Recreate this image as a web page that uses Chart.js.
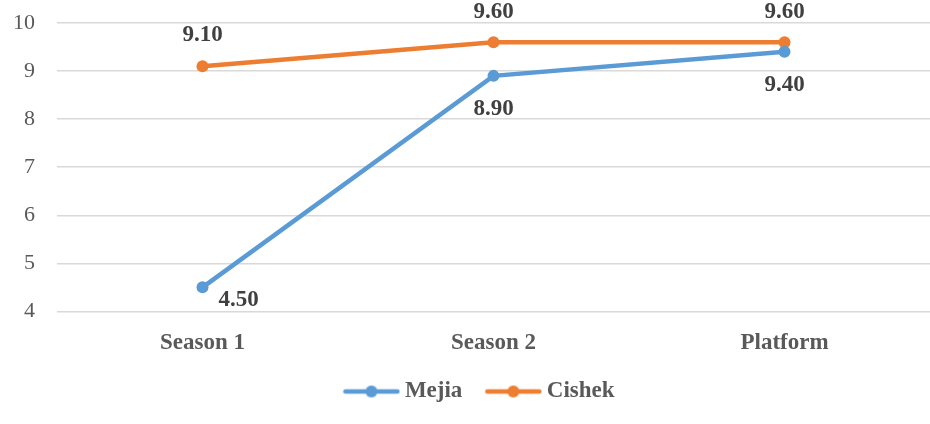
<!DOCTYPE html>
<html>
<head>
<meta charset="utf-8">
<script src="https://cdn.jsdelivr.net/npm/chart.js@4.4.0/dist/chart.umd.min.js"></script>
<style>
  html, body { margin: 0; padding: 0; overflow: hidden; background: #fff; }
  #chart { display: block; }
</style>
</head>
<body>
<canvas id="chart" width="930" height="424"></canvas>
<script>
// categories and values
const categories = ["Season 1", "Season 2", "Platform"];
const mejia = [4.5, 8.9, 9.4];
const cishek = [9.1, 9.6, 9.6];
const seriesNames = ["Mejia", "Cishek"];
const colors = ["#5B9BD5", "#ED7D31"];

const serif = "'Liberation Serif', 'Times New Roman', serif";

// legend symbol: short line with a dot in the middle
function legendMark(color) {
  const c = document.createElement("canvas");
  c.width = 58; c.height = 14;
  const g = c.getContext("2d");
  g.strokeStyle = color;
  g.lineWidth = 4.5;
  g.lineCap = "round";
  g.beginPath();
  g.moveTo(3, 7); g.lineTo(55, 7);
  g.stroke();
  g.fillStyle = color;
  g.beginPath();
  g.arc(29, 7, 6, 0, Math.PI * 2);
  g.fill();
  return c;
}

// draws the value labels next to each point
const valueLabels = {
  id: "valueLabels",
  afterDatasetsDraw(chart, args, opts) {
    const ctx = chart.ctx;
    ctx.save();
    ctx.font = "bold 23px " + serif;
    ctx.fillStyle = "#404040";
    ctx.textAlign = "center";
    ctx.textBaseline = "middle";
    chart.data.datasets.forEach((ds, i) => {
      const meta = chart.getDatasetMeta(i);
      meta.data.forEach((pt, j) => {
        const off = opts.offsets[i][j];
        ctx.fillText(ds.data[j].toFixed(2), pt.x + off[0], pt.y + off[1]);
      });
    });
    ctx.restore();
  }
};

// legend a bit to the right, plot running a few px past the right edge
const layoutTweak = {
  id: "layoutTweak",
  afterLayout(chart, args, opts) {
    const lg = chart.legend;
    lg.left += opts.dx; lg.right += opts.dx;
    lg.top += opts.dy; lg.bottom += opts.dy;
    if (lg.legendHitBoxes) lg.legendHitBoxes.forEach(b => { b.left += opts.dx; b.top += opts.dy; });

    const x = chart.scales.x;
    chart.chartArea.right += opts.extraRight;
    chart.chartArea.width += opts.extraRight;
    x.right += opts.extraRight;
    x.width += opts.extraRight;
    x.configure();
  }
};

function noPad(scale) {
  scale.paddingTop = 0; scale.paddingBottom = 0;
  scale.paddingLeft = 0; scale.paddingRight = 0;
}

new Chart(document.getElementById("chart"), {
  type: "line",
  plugins: [valueLabels, layoutTweak],
  data: {
    labels: categories,
    datasets: [
      {
        label: seriesNames[0],
        data: mejia,
        borderColor: colors[0],
        backgroundColor: colors[0],
        borderWidth: 4.5,
        pointRadius: 6,
        pointHoverRadius: 6,
        pointBorderWidth: 0,
        tension: 0
      },
      {
        label: seriesNames[1],
        data: cishek,
        borderColor: colors[1],
        backgroundColor: colors[1],
        borderWidth: 4.5,
        pointRadius: 6,
        pointHoverRadius: 6,
        pointBorderWidth: 0,
        tension: 0
      }
    ]
  },
  options: {
    responsive: false,
    animation: false,
    layout: { padding: { top: 23, left: 0, right: 0, bottom: 4 } },
    scales: {
      x: {
        offset: true,
        grid: { display: false, drawTicks: false },
        border: { display: false },
        ticks: {
          padding: 18,
          color: "#595959",
          font: { family: serif, size: 23, weight: "bold" }
        },
        afterFit(scale) { scale.height -= 17; noPad(scale); }
      },
      y: {
        min: 4,
        max: 10,
        ticks: {
          stepSize: 1,
          padding: 22,
          color: "#595959",
          font: { family: serif, size: 22 }
        },
        grid: { color: "#D9D9D9", lineWidth: 1.5, drawTicks: false },
        border: { display: false },
        afterFit(scale) { scale.width = 57; noPad(scale); }
      }
    },
    plugins: {
      tooltip: { enabled: false },
      legend: {
        position: "bottom",
        labels: {
          usePointStyle: true,
          pointStyleWidth: 44,
          padding: 29,
          color: "#595959",
          font: { family: serif, size: 23, weight: "bold" },
          generateLabels(chart) {
            return chart.data.datasets.map((ds, i) => ({
              text: ds.label,
              pointStyle: legendMark(colors[i]),
              fillStyle: colors[i],
              strokeStyle: colors[i],
              lineWidth: 0,
              datasetIndex: i,
              fontColor: "#595959"
            }));
          }
        }
      },
      layoutTweak: { dx: 17, dy: -7, extraRight: 6 },
      valueLabels: {
        offsets: [
          [[36, 13], [0, 33], [0, 33]],
          [[0, -31], [0, -30], [0, -30]]
        ]
      }
    }
  }
});
</script>
</body>
</html>
